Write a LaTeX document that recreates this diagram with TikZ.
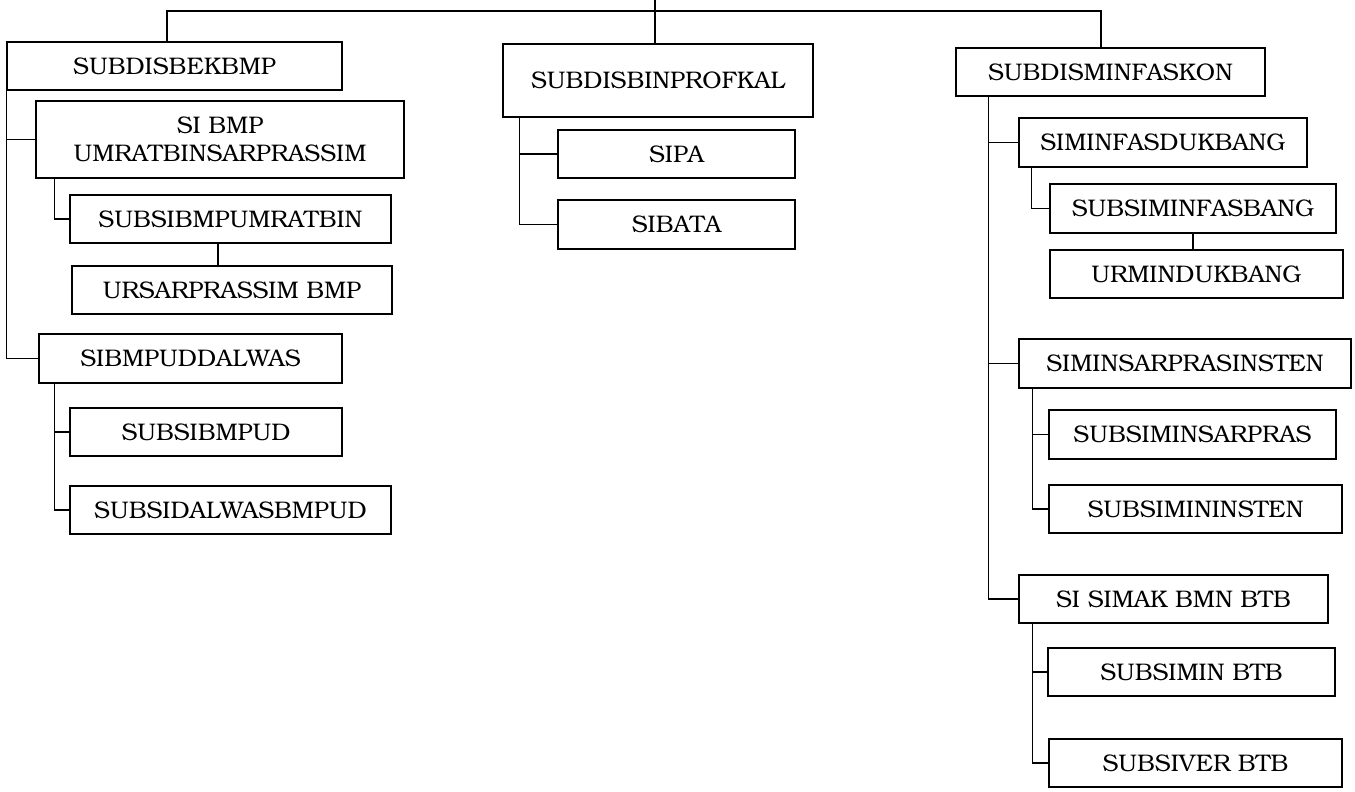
\documentclass[tikz,border=0pt]{standalone}
\usepackage[T1]{fontenc}
\usepackage{bookman}
\usepackage{tikz}
\tikzset{every picture/.style={line width=1.5pt}}
\tikzset{unitbox/.style={draw, fill=white, inner sep=0pt, align=center, font=\fontsize{24}{28}\selectfont}}

\begin{document}
\begin{tikzpicture}[x=1pt,y=1pt,yscale=-1]
\useasboundingbox (0,0) rectangle (1355,792);

% top bus
\coordinate (top) at (655,0);
\coordinate (bus) at (655,11);

% left column
\node [unitbox, minimum width=335pt, minimum height=48pt] (bek) at (174.5,66) {SUBDISBEKBMP};
\node [unitbox, minimum width=368pt, minimum height=77pt] (bmp) at (220,139.5) {SI BMP\\UMRATBINSARPRASSIM};
\node [unitbox, minimum width=321pt, minimum height=48pt] (umrat) at (230.5,219) {SUBSIBMPUMRATBIN};
\node [unitbox, minimum width=320pt, minimum height=48pt] (ursar) at (232,290) {URSARPRASSIM BMP};
\node [unitbox, minimum width=303pt, minimum height=49pt] (uddal) at (190.5,358.5) {SIBMPUDDALWAS};
\node [unitbox, minimum width=272pt, minimum height=48pt] (ud) at (206,432) {SUBSIBMPUD};
\node [unitbox, minimum width=321pt, minimum height=48pt] (dalwas) at (230.5,510) {SUBSIDALWASBMPUD};

% middle column
\node [unitbox, minimum width=310pt, minimum height=73pt] (profkal) at (658,80.5) {SUBDISBINPROFKAL};
\node [unitbox, minimum width=237pt, minimum height=48pt] (sipa) at (676.5,154) {SIPA};
\node [unitbox, minimum width=237pt, minimum height=49pt] (sibata) at (676.5,224.5) {SIBATA};

% right column
\node [unitbox, minimum width=309pt, minimum height=48pt] (minfas) at (1110.5,72) {SUBDISMINFASKON};
\node [unitbox, minimum width=288pt, minimum height=49pt] (dukbang) at (1163,142.5) {SIMINFASDUKBANG};
\node [unitbox, minimum width=286pt, minimum height=49pt] (infasbang) at (1193,208.5) {SUBSIMINFASBANG};
\node [unitbox, minimum width=293pt, minimum height=48pt] (urmin) at (1196.5,274) {URMINDUKBANG};
\node [unitbox, minimum width=332pt, minimum height=49pt] (insten) at (1185,363.5) {SIMINSARPRASINSTEN};
\node [unitbox, minimum width=287pt, minimum height=49pt] (sarpras) at (1192.5,434.5) {SUBSIMINSARPRAS};
\node [unitbox, minimum width=293pt, minimum height=48pt] (mininsten) at (1195.5,509) {SUBSIMININSTEN};
\node [unitbox, minimum width=309pt, minimum height=48pt] (simak) at (1173.5,599) {SI SIMAK BMN BTB};
\node [unitbox, minimum width=287pt, minimum height=48pt] (minbtb) at (1191.5,672) {SUBSIMIN BTB};
\node [unitbox, minimum width=293pt, minimum height=48pt] (verbtb) at (1195.5,763) {SUBSIVER BTB};

% bus lines
\draw (top) -- (top |- profkal.north);
\draw (bus) -| ([xshift=-7.5pt]bek.north);
\draw (bus) -| ([xshift=-9.5pt]minfas.north);

% left tree
\draw (bek.south west) |- (bmp.west);
\draw (bek.south west) |- (uddal.west);
\draw ([xshift=19pt]bmp.south west) |- (umrat.west);
\draw ([xshift=-12.5pt]umrat.south) -- ([xshift=-12.5pt]umrat.south |- ursar.north);
\draw ([xshift=16pt]uddal.south west) |- (ud.west);
\draw ([xshift=16pt]uddal.south west) |- (dalwas.west);

% middle tree
\draw ([xshift=17pt]profkal.south west) |- (sipa.west);
\draw ([xshift=17pt]profkal.south west) |- (sibata.west);

% right tree
\draw ([xshift=33pt]minfas.south west) |- (dukbang.west);
\draw ([xshift=33pt]minfas.south west) |- (insten.west);
\draw ([xshift=33pt]minfas.south west) |- (simak.west);
\draw ([xshift=13pt]dukbang.south west) |- (infasbang.west);
\draw (infasbang.south) -- (infasbang.south |- urmin.north);
\draw ([xshift=14pt]insten.south west) |- (sarpras.west);
\draw ([xshift=14pt]insten.south west) |- (mininsten.west);
\draw ([xshift=14pt]simak.south west) |- (minbtb.west);
\draw ([xshift=14pt]simak.south west) |- (verbtb.west);
\end{tikzpicture}
\end{document}
